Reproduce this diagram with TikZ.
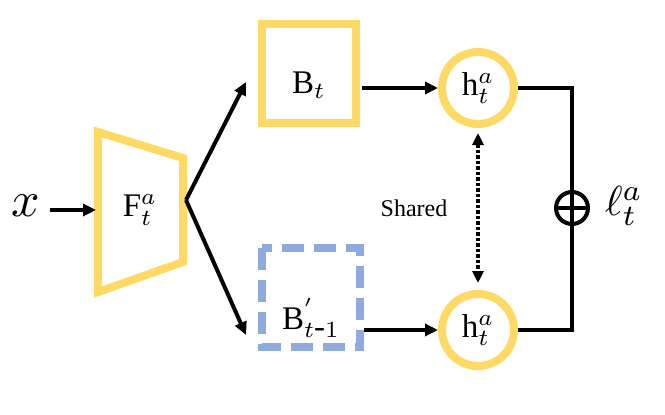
\documentclass[tikz,border=0pt]{standalone}
\usepackage{fontspec}
\setmainfont{Liberation Serif}
\usetikzlibrary{arrows.meta}
\definecolor{yel}{HTML}{FFD966}
\definecolor{blu}{HTML}{8FAADC}
\begin{document}
\begin{tikzpicture}[x=1pt,y=-1pt,
  arr/.style={line width=4pt,-{Triangle[length=13pt,width=12pt]}},
  lbl/.style={scale=3.3,transform shape,inner sep=0pt}]
\useasboundingbox (0,0) rectangle (665,415);
\draw[yel,line width=8pt,line join=miter] (98,132) -- (183,158) -- (183,262) -- (98,292) -- cycle;
\node[lbl] (F) at (140,210) {F$^{a}_{t}$};
\draw[yel,line width=8pt] (262,24) rectangle (356,123);
\node[lbl] (B) at (309,85) {B$_{t}$};
\draw[blu,line width=8pt,dash pattern=on 22pt off 10pt] (262,248) rectangle (360,347);
\node[lbl] (B2) at (311,318) {B$^{'}_{t\mbox{-}1}$};
\node[circle,draw=yel,line width=8pt,minimum size=72pt,inner sep=0pt] (h1) at (478,88) {};
\node[circle,draw=yel,line width=8pt,minimum size=72pt,inner sep=0pt] (h2) at (478,330) {};
\node[lbl] at (478,88) {h$^{a}_{t}$};
\node[lbl] at (478,330) {h$^{a}_{t}$};
\node[scale=5,transform shape] (x) at (26,206) {$x$};
\coordinate (fin) at (96,210);
\coordinate (fout) at (186,200);
\coordinate (ta) at (246,82);
\coordinate (tb) at (246,335);
\draw[arr] (50,210) -- (fin);
\draw[arr] (fout) -- (ta);
\draw[arr] (fout) -- (tb);
\draw[arr] (362,88) -- (h1.west);
\draw[arr] (364,330) -- (h2.west);
\draw[line width=3.5pt,dotted,{Triangle[length=12pt,width=11pt]}-{Triangle[length=12pt,width=11pt]}] (478,133) -- (478,283);
\node[font=\fontsize{24}{26}\selectfont] (sh) at (414,208) {Shared};
\node[circle,draw,line width=4pt,minimum size=32pt,inner sep=0pt,fill=white] (op) at (572,208) {};
\draw[line width=4pt] (h1.east) -- (572,88) -- (op.north);
\draw[line width=4pt] (h2.east) -- (572,330) -- (op.south);
\draw[line width=3.5pt] (op.west) -- (op.east) (op.north) -- (op.south);
\node[scale=4.2,transform shape] (l) at (624,206) {$\ell^{a}_{t}$};
\end{tikzpicture}
\end{document}
